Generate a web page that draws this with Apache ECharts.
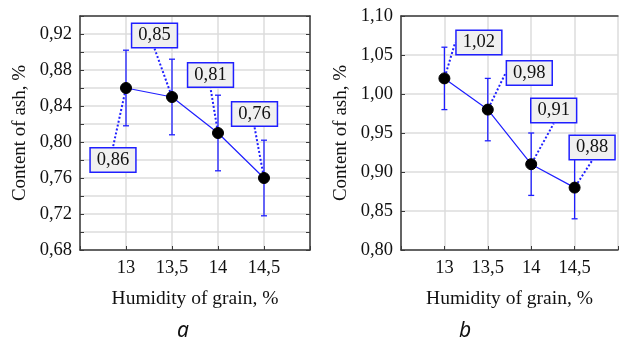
<!DOCTYPE html>
<html>
<head>
<meta charset="utf-8">
<script src="https://cdn.jsdelivr.net/npm/echarts@6/dist/echarts.min.js"></script>
<style>
  html, body { margin: 0; padding: 0; background: #fff; }
</style>
</head>
<body>
<div id="chart" style="width:621px;height:340px"></div>
<script>
// humidity of grain, %
const humidity = [13, 13.5, 14, 14.5]
const xTicks = ['13', '13,5', '14', '14,5']
// panel a
const ashA = [0.86, 0.85, 0.81, 0.76]
const errA = [0.042, 0.042, 0.042, 0.042]
// panel b
const ashB = [1.02, 0.98, 0.91, 0.88]
const errB = [0.04, 0.04, 0.04, 0.04]

const BLUE = '#1f1fff'
const AXIS = '#3a3a3a'
const SERIF = 'Liberation Serif'

const comma = (v, d) => v.toFixed(d).replace('.', ',')

function xAxisFor (gridIndex, top) {
  if (top) {
    return {
      type: 'value', gridIndex: gridIndex, position: 'top', min: 12.5, max: 15, interval: 0.5,
      axisLine: {show: true, onZero: false, lineStyle: {color: AXIS, width: 1.5}},
      axisTick: {show: false}, axisLabel: {show: false}, splitLine: {show: false}
    }
  }
  return {
    type: 'value', gridIndex: gridIndex, min: 12.5, max: 15, interval: 0.5,
    name: 'Humidity of grain, %', nameLocation: 'middle', nameGap: 39,
    nameTextStyle: {fontFamily: SERIF, fontSize: 19.5, color: '#111'},
    axisLine: {onZero: false, lineStyle: {color: AXIS, width: 1.5}},
    axisTick: {inside: true, length: 4, lineStyle: {color: AXIS}},
    axisLabel: {
      margin: 9, fontFamily: SERIF, fontSize: 18.5, color: '#111',
      formatter: (v) => {
        let i = humidity.indexOf(v)
        return i < 0 ? '' : xTicks[i]
      }
    },
    splitLine: {show: true, lineStyle: {color: '#dcdcdc', width: 1.5}}
  }
}

function yAxisFor (gridIndex, min, max, step, labelEvery, right) {
  let base = {
    type: 'value', gridIndex: gridIndex, min: min, max: max, interval: step,
    axisLine: {show: true, onZero: false, lineStyle: {color: AXIS, width: 1.5}},
    axisTick: {show: true, inside: true, length: 4, lineStyle: {color: AXIS}}
  }
  if (right) {
    return Object.assign(base, {
      position: 'right', axisLabel: {show: false}, splitLine: {show: false}
    })
  }
  return Object.assign(base, {
    name: 'Content of ash, %', nameLocation: 'middle', nameGap: 50,
    nameTextStyle: {fontFamily: SERIF, fontSize: 19, color: '#111'},
    axisLabel: {
      margin: 8, fontFamily: SERIF, fontSize: 18.5, color: '#111',
      formatter: (v) => {
        let k = Math.round((v - min) / step)
        return k % labelEvery === 0 ? comma(v, 2) : ''
      }
    },
    splitLine: {show: true, lineStyle: {color: '#dcdcdc', width: 1.5}}
  })
}

function errorSeries (xi, yi, vals, errs) {
  return {
    type: 'custom', xAxisIndex: xi, yAxisIndex: yi, z: 2,
    data: humidity.map((h, i) => [h, vals[i] - errs[i], vals[i] + errs[i]]),
    renderItem: (params, api) => {
      let lo = api.coord([api.value(0), api.value(1)])
      let hi = api.coord([api.value(0), api.value(2)])
      let st = {stroke: BLUE, lineWidth: 1.3}
      return {
        type: 'group',
        children: [
          {type: 'line', shape: {x1: lo[0], y1: lo[1], x2: hi[0], y2: hi[1]}, style: st},
          {type: 'line', shape: {x1: lo[0] - 3, y1: lo[1], x2: lo[0] + 3, y2: lo[1]}, style: st},
          {type: 'line', shape: {x1: hi[0] - 3, y1: hi[1], x2: hi[0] + 3, y2: hi[1]}, style: st}
        ]
      }
    }
  }
}

function meanSeries (xi, yi, vals, offs) {
  return {
    type: 'line', xAxisIndex: xi, yAxisIndex: yi, z: 5,
    data: humidity.map((h, i) => [h, vals[i]]),
    lineStyle: {color: BLUE, width: 1.2},
    symbol: 'circle', symbolSize: 11,
    itemStyle: {color: '#000', borderColor: '#000'},
    label: {
      show: true, position: 'inside',
      formatter: (p) => comma(p.value[1], 2),
      fontFamily: SERIF, fontSize: 18.5, color: '#111',
      backgroundColor: '#f0f0f0', borderColor: BLUE, borderWidth: 1.5,
      padding: [3, 6, 1, 6]
    },
    labelLine: {show: true, lineStyle: {color: BLUE, width: 2, type: 'dotted'}},
    labelLayout: (p) => ({dx: offs[p.dataIndex][0], dy: offs[p.dataIndex][1]}),
    animation: false
  }
}

const chart = echarts.init(document.getElementById('chart'), null, {renderer: 'canvas'})
chart.setOption({
  animation: false,
  grid: [
    {left: 80, top: 16, width: 230, height: 234},
    {left: 401, top: 16, width: 230, height: 234}
  ],
  xAxis: [xAxisFor(0, false), xAxisFor(0, true), xAxisFor(1, false), xAxisFor(1, true)],
  yAxis: [
    yAxisFor(0, 0.68, 0.94, 0.02, 2, false),
    yAxisFor(0, 0.68, 0.94, 0.02, 2, true),
    yAxisFor(1, 0.80, 1.10, 0.05, 1, false)
  ],
  series: [
    errorSeries(0, 0, ashA, errA),
    meanSeries(0, 0, ashA, [[-13, 72], [-17.5, -61.5], [-7.5, -58], [-9.5, -64]]),
    errorSeries(2, 2, ashB, errB),
    meanSeries(2, 2, ashB, [[34.5, -36], [41.5, -36.6], [22.5, -53.7], [17.5, -40]])
  ],
  graphic: [
    {type: 'text', x: 183, y: 331, style: {text: 'a', font: 'italic 21px "Noto Sans"', fill: '#111', textAlign: 'center', textVerticalAlign: 'middle'}},
    {type: 'text', x: 465, y: 331, style: {text: 'b', font: 'italic 21px "Noto Sans"', fill: '#111', textAlign: 'center', textVerticalAlign: 'middle'}}
  ]
})
</script>
</body>
</html>
